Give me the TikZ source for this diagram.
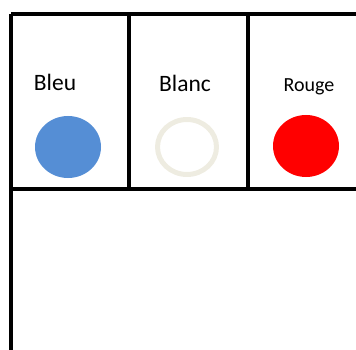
\documentclass[tikz,border=0pt]{standalone}
\usepackage{fontspec}
\setmainfont{Carlito}
\begin{document}
\begin{tikzpicture}[x=1pt,y=-1pt,
  frame/.style={line width=4.5pt,black},
  lbl/.style={inner sep=0pt,anchor=base}]
\useasboundingbox (0,0) rectangle (356,350);
\coordinate (tl) at (11,14);
\coordinate (tr) at (356,14);
\coordinate (bl) at (11,189);
\coordinate (br) at (356,189);
\coordinate (bot) at (11,350);
\coordinate (d1t) at (129,14);
\coordinate (d1b) at (129,189);
\coordinate (d2t) at (248,14);
\coordinate (d2b) at (248,189);
\draw[frame] (tl) -- (tr);
\draw[frame] (bl) -- (br);
\draw[frame] (tl) -- (bot);
\draw[frame] (d1t) -- (d1b);
\draw[frame] (d2t) -- (d2b);
\node[lbl,font=\fontsize{23.5}{27}\selectfont] (bleu) at (55,91) {Bleu};
\node[lbl,font=\fontsize{23.5}{27}\selectfont] (blanc) at (185,92) {Blanc};
\node[lbl,font=\fontsize{20}{24}\selectfont] (rouge) at (309,92) {Rouge};
\fill[color={rgb,255:red,85;green,142;blue,213}] (68,147) ellipse [x radius=33, y radius=31];
\draw[line width=5pt,color={rgb,255:red,238;green,236;blue,225}] (187,147) ellipse [x radius=29.5, y radius=27.5];
\fill[red] (306,146) ellipse [x radius=33, y radius=31];
\end{tikzpicture}
\end{document}
